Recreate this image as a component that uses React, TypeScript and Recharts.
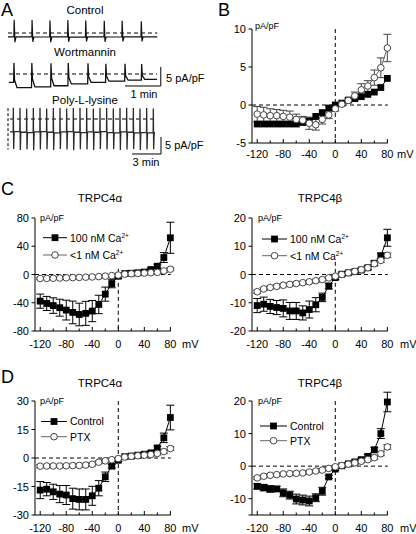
import React from 'react';
import { LineChart, Line, XAxis, YAxis, ReferenceLine, ErrorBar } from 'recharts';

const FONT = '"Liberation Sans", Arial, Helvetica, sans-serif';

// ---------- Panel A : current traces (time in s, current in pA/pF) ----------
const controlSpikeTimes = [10, 39, 68, 97, 126, 156, 185, 216];
const controlPeaks = [3.5, 3.4, 3.3, 3.4, 3.3, 3.2, 3.2, 3.1];
const controlTroughs = [-2.4, -2.3, -2.4, -2.3, -2.2, -2.3, -2.2, -2.2];
const controlBase = [-1.0, -1.05, -1.0, -1.1, -1.0, -1.05, -1.0, -1.0];

const wortSpikeTimes = [8, 37, 68, 96, 128, 157, 188, 215];
const wortPeaks = [2.9, 2.9, 2.8, 2.9, 2.8, 2.7, 2.7, 2.6];
const wortTroughs = [-1.6, -1.3, -1.1, -0.9, -0.7, -0.6, -0.5, -0.4];
const wortBase = [-3.6, -3.4, -3.1, -2.6, -2.2, -1.9, -1.6, -1.4];

const polySpikeTimes = [20, 60, 100, 140, 180, 220, 260, 300, 340, 380, 420, 460, 500, 540, 580, 620, 660, 700, 740, 780, 820, 860];
const polyPeaks = [3.3, 3.2, 3.1, 3.2, 3.3, 3.1, 3.2, 3.2, 3.1, 3.2, 3.3, 3.2, 3.1, 3.2, 3.2, 3.1, 3.2, 3.3, 3.2, 3.1, 3.2, 3.1];
const polyTroughs = [-8.8, -9.1, -8.9, -9.2, -9.0, -8.9, -9.1, -8.8, -9.0, -9.2, -8.9, -9.0, -9.1, -8.8, -9.0, -8.9, -9.1, -9.0, -8.8, -9.1, -9.0, -8.9];
const polyBase = [-3.7, -3.9, -4.0, -3.8, -3.7, -3.9, -4.1, -3.8, -3.7, -3.9, -4.0, -3.8, -3.9, -3.7, -4.0, -4.1, -3.8, -3.9, -4.1, -4.0, -4.1, -4.0];

// ---------- Panels B-D : I-V relations ----------
const mV = [-120, -110, -100, -90, -80, -70, -60, -50, -40, -30, -20, -10, 0, 10, 20, 30, 40, 50, 60, 70, 80];
const xTicks = [-120, -100, -80, -60, -40, -20, 0, 20, 40, 60, 80];

// B
const bSquare = [-2.5, -2.5, -2.5, -2.5, -2.5, -2.5, -2.5, -2.3, -2.1, -1.5, -1.0, -0.4, 0.0, 0.25, 0.65, 0.85, 1.1, 1.4, 1.7, 2.3, 3.5];
const bCircle = [-1.2, -1.3, -1.4, -1.4, -1.5, -1.6, -1.9, -2.0, -2.4, -2.6, -1.9, -1.3, -0.5, 0.1, 0.6, 1.2, 2.0, 2.5, 3.6, 4.9, 7.5];
const bCircleErr = [1.0, 1.0, 0.9, 0.8, 0.8, 0.8, 0.7, 0.5, 0.8, 0.7, 0.6, 0.5, 0.3, 0.2, 0.3, 0.5, 0.8, 0.7, 1.0, 1.3, 1.8];

// C TRPC4alpha
const cAlphaCa = [-37.7, -41, -44, -47, -50.4, -53.7, -56.6, -55, -51.8, -42.4, -27.8, -12.8, -2.4, 1.4, 1.8, 2.5, 3.5, 7, 11.7, 24, 52];
const cAlphaCaErr = [10, 10, 11, 12, 14, 16, 16, 17, 15, 13, 10, 6, 3, 1, 1, 1, 1.5, 2, 3, 7, 22];
const cAlphaLow = [-5.7, -5.5, -5.3, -5, -4.7, -4.4, -4.1, -3.8, -3.5, -3, -2.3, -1.5, -0.8, 0.5, 1, 1.5, 2, 2.5, 3, 5, 7.5];
const cAlphaLowErr = [1.5, 1.5, 1.5, 1.5, 1.5, 1.5, 1.5, 1.5, 1.5, 1.5, 1.5, 1.5, 1, 1, 1, 1, 1.5, 1.5, 2, 2, 2];

// C TRPC4beta
const cBetaCa = [-11, -10.5, -11.3, -11.7, -12, -12.9, -12.9, -13.6, -12.4, -10.7, -8.1, -4.1, -1.1, 0.1, 0.6, 1.0, 1.6, 2.4, 4.0, 6.6, 13];
const cBetaCaErr = [2.5, 2.5, 2.5, 2.5, 3, 3, 3, 2.5, 3, 2.5, 1.5, 1, 0.7, 0.4, 0.4, 0.5, 0.6, 0.7, 0.8, 1, 3];
const cBetaLow = [-6.1, -5.1, -4.6, -4.2, -3.8, -3.5, -3.2, -2.9, -2.6, -2.2, -1.8, -1.2, -0.6, 0, 0.6, 1.1, 1.7, 2.4, 3.8, 5, 6.8];
const cBetaLowErr = [0.6, 0.5, 0.5, 0.5, 0.5, 0.5, 0.5, 0.5, 0.5, 0.5, 0.5, 0.5, 0.5, 0.5, 0.5, 0.5, 0.6, 0.6, 0.6, 0.7, 0.8];

// D TRPC4alpha
const dAlphaCtl = [-16.9, -16.4, -17.8, -19, -19.5, -21.4, -21.8, -21.8, -19.9, -15.9, -9.9, -4.3, -1.2, 0.7, 1.0, 1.5, 2.0, 2.7, 5.3, 10.6, 21.3];
const dAlphaCtlErr = [4.5, 3.5, 4, 4.5, 5, 5.5, 5.5, 5.5, 5, 4, 2.5, 1, 0.7, 0.5, 0.5, 0.5, 0.6, 0.7, 1, 2.5, 6.5];
const dAlphaPtx = [-4.3, -4.2, -4.2, -4.2, -4.1, -4.0, -3.9, -3.7, -3.3, -2.2, -1.5, -0.9, -0.3, 0.5, 0.9, 1.2, 1.5, 1.8, 2.4, 3.4, 5.0];
const dAlphaPtxErr = [0.8, 0.8, 0.8, 0.8, 0.8, 0.8, 0.8, 0.8, 0.8, 0.8, 0.7, 0.6, 0.5, 0.5, 0.5, 0.5, 0.6, 0.7, 0.8, 0.9, 1.0];

// D TRPC4beta
const dBetaCtl = [-6.2, -6.6, -7.0, -7.0, -8.2, -8.9, -10.1, -10.4, -10.7, -9.7, -7.7, -3.3, -0.9, 0.1, 0.7, 1.3, 2.0, 3.0, 5.0, 10.0, 19.7];
const dBetaCtlErr = [0.8, 1, 1, 0.8, 1.2, 1.2, 1.5, 1.5, 1.5, 1.2, 1.2, 0.5, 0.4, 0.4, 0.4, 0.5, 0.5, 0.6, 0.8, 1.5, 3];
const dBetaPtx = [-3.6, -3.1, -2.8, -2.6, -2.4, -2.3, -2.2, -2.1, -1.8, -1.5, -1.2, -0.7, -0.2, 0.2, 0.6, 1.0, 1.5, 2.0, 2.6, 3.8, 5.9];
const dBetaPtxErr = [0.4, 0.4, 0.4, 0.4, 0.4, 0.4, 0.4, 0.4, 0.4, 0.4, 0.4, 0.4, 0.4, 0.4, 0.4, 0.4, 0.4, 0.5, 0.5, 0.6, 0.7];

// ---------- helpers ----------
function buildTrace(start: number, times: number[], peaks: number[], troughs: number[], bases: number[], end: number, rise: number, fall: number, settle: number) {
  const rows: { t: number; v: number }[] = [{ t: 0, v: start }];
  let prev = start;
  times.forEach((ts, i) => {
    rows.push({ t: ts - rise, v: prev });
    rows.push({ t: ts, v: peaks[i] });
    rows.push({ t: ts + fall, v: troughs[i] });
    rows.push({ t: ts + settle, v: bases[i] });
    prev = bases[i];
  });
  rows.push({ t: end, v: prev });
  return rows;
}

function buildIV(sq: number[], sqErr: number[] | null, ci: number[], ciErr: number[] | null) {
  return mV.map((v, i) => ({
    mv: v,
    sq: sq[i],
    sqe: sqErr ? sqErr[i] : 0,
    ci: ci[i],
    cie: ciErr ? ciErr[i] : 0,
  }));
}

const SquareDot = (p: any) => {
  if (p.cx == null || p.cy == null) return <g key={`sd${p.index}`} />;
  return <rect key={`sd${p.index}`} x={p.cx - 3.4} y={p.cy - 3.4} width={6.8} height={6.8} fill="#000" />;
};

const XTick = (p: any) => {
  const { x, y, payload, labelDy } = p;
  const v = payload.value;
  const major = v % 40 === 0;
  return (
    <g>
      <line x1={x} y1={y} x2={x} y2={y - (major ? 4 : 2.5)} stroke="#000" strokeWidth={1} />
      {major && (
        <text x={x} y={y + labelDy} textAnchor="middle" fontSize={11} fontFamily={FONT} fill="#000">
          {v}
        </text>
      )}
    </g>
  );
};

const YTick = (p: any) => {
  const { x, y, payload, labels } = p;
  const v = payload.value;
  const show = labels.includes(v);
  return (
    <g>
      <line x1={x} y1={y} x2={x - 3.5} y2={y} stroke="#000" strokeWidth={1} />
      {show && (
        <text x={x - 6} y={y + 4} textAnchor="end" fontSize={11} fontFamily={FONT} fill="#000">
          {v}
        </text>
      )}
    </g>
  );
};

type IVProps = {
  plotLeft: number;
  plotTop: number;
  h: number;
  yDomain: [number, number];
  yTicks: number[];
  yLabels: number[];
  rows: any[];
  sqErr: boolean;
  vTop: number;
  labelDy: number;
};

const PX_PER_MV = 136 / 209;
const X_MIN = -128;
const PLOT_W = 140;
const X_MAX = X_MIN + PLOT_W / PX_PER_MV;
const TOP_PAD = 9;

function IVChart({ plotLeft, plotTop, h, yDomain, yTicks, yLabels, rows, sqErr, vTop, labelDy }: IVProps) {
  const [yMin, yMax] = yDomain;
  const pxPerUnit = h / (yMax - yMin);
  const yTopExt = yMax + TOP_PAD / pxPerUnit;
  return (
    <div style={{ position: 'absolute', left: plotLeft - 35, top: plotTop - TOP_PAD - 1 }}>
      <LineChart width={35 + PLOT_W + 8} height={1 + TOP_PAD + h + 30} data={rows} margin={{ top: 1, right: 8, left: 0, bottom: 0 }}>
        <XAxis
          type="number"
          dataKey="mv"
          domain={[X_MIN, X_MAX]}
          ticks={xTicks}
          interval={0}
          allowDataOverflow
          height={30}
          tickLine={false}
          tickSize={0}
          tickMargin={0}
          axisLine={false}
          tick={(p: any) => <XTick {...p} labelDy={labelDy} />}
        />
        <YAxis
          type="number"
          domain={[yMin, yTopExt]}
          ticks={yTicks}
          interval={0}
          allowDataOverflow
          width={35}
          tickLine={false}
          tickSize={0}
          tickMargin={0}
          axisLine={false}
          tick={(p: any) => <YTick {...p} labels={yLabels} />}
        />
        <ReferenceLine segment={[{ x: X_MIN, y: yMin }, { x: 80.7, y: yMin }]} stroke="#000" strokeWidth={1} />
        <ReferenceLine segment={[{ x: X_MIN, y: yMin }, { x: X_MIN, y: yMax }]} stroke="#000" strokeWidth={1} />
        <ReferenceLine segment={[{ x: X_MIN, y: 0 }, { x: 80.7, y: 0 }]} stroke="#000" strokeWidth={1} strokeDasharray="4 3" />
        <ReferenceLine
          segment={[
            { x: 0, y: vTop },
            { x: 0, y: yMin },
          ]}
          stroke="#000"
          strokeWidth={1}
          strokeDasharray="4 3"
        />
        <Line
          dataKey="sq"
          type="linear"
          stroke="#000"
          strokeWidth={1}
          dot={SquareDot}
          activeDot={false}
          isAnimationActive={false}
        >
          {sqErr && <ErrorBar dataKey="sqe" width={4} stroke="#000" strokeWidth={1} direction="y" />}
        </Line>
        <Line
          dataKey="ci"
          type="linear"
          stroke="#666"
          strokeWidth={1}
          dot={{ r: 3.3, fill: '#fff', stroke: '#444', strokeWidth: 1, clipDot: false }}
          activeDot={false}
          isAnimationActive={false}
        >
          <ErrorBar dataKey="cie" width={4} stroke="#444" strokeWidth={1} direction="y" />
        </Line>
      </LineChart>
    </div>
  );
}

type TraceProps = {
  left: number;
  top: number;
  width: number;
  height: number;
  xDomain: [number, number];
  yDomain: [number, number];
  rows: { t: number; v: number }[];
  stroke: string;
  strokeWidth: number;
  children?: React.ReactNode;
};

function TraceChart({ left, top, width, height, xDomain, yDomain, rows, stroke, strokeWidth, children }: TraceProps) {
  return (
    <div style={{ position: 'absolute', left, top }}>
      <LineChart width={width} height={height} data={rows} margin={{ top: 0, right: 0, left: 0, bottom: 0 }}>
        <XAxis type="number" dataKey="t" domain={xDomain} hide allowDataOverflow />
        <YAxis type="number" domain={yDomain} hide allowDataOverflow />
        {children}
        <Line dataKey="v" type="linear" stroke={stroke} strokeWidth={strokeWidth} dot={false} activeDot={false} isAnimationActive={false} />
      </LineChart>
    </div>
  );
}

function LegendItem({ x1, x2, y, kind, children }: { x1: number; x2: number; y: number; kind: 'sq' | 'ci'; children: React.ReactNode }) {
  const cx = (x1 + x2) / 2;
  return (
    <g>
      <line x1={x1} y1={y} x2={x2} y2={y} stroke={kind === 'sq' ? '#000' : '#666'} strokeWidth={1} />
      {kind === 'sq' ? (
        <rect x={cx - 3.4} y={y - 3.4} width={6.8} height={6.8} fill="#000" />
      ) : (
        <circle cx={cx} cy={y} r={3.3} fill="#fff" stroke="#444" strokeWidth={1} />
      )}
      <text x={x2 + 3} y={y + 3.8} fontSize={10.5} fontFamily={FONT} fill="#000">
        {children}
      </text>
    </g>
  );
}

const Ca = ({ pre }: { pre: string }) => (
  <>
    {pre}
    <tspan dy={-4} fontSize={6.5}>
      2+
    </tspan>
  </>
);

export default function App() {
  const controlRows = buildTrace(-1.0, controlSpikeTimes, controlPeaks, controlTroughs, controlBase, 242, 0.5, 1.2, 3);
  const wortRows = buildTrace(-2.2, wortSpikeTimes, wortPeaks, wortTroughs, wortBase, 240, 0.5, 1, 5);
  const polyRows = buildTrace(-3.8, polySpikeTimes, polyPeaks, polyTroughs, polyBase, 870, 1, 2, 5);

  const dash = '4 3';

  return (
    <div style={{ position: 'absolute', left: 0, top: 0, width: 416, height: 534, background: '#fff', fontFamily: FONT, overflow: 'hidden' }}>
      {/* Panel A traces */}
      <TraceChart left={8} top={15} width={160} height={32} xDomain={[0, 259.3]} yDomain={[-3.68, 4.74]} rows={controlRows} stroke="#111" strokeWidth={1.2}>
        <ReferenceLine segment={[{ x: 0, y: 0 }, { x: 242, y: 0 }]} stroke="#000" strokeDasharray={dash} />
      </TraceChart>
      <TraceChart left={9} top={58} width={160} height={34} xDomain={[0, 259.3]} yDomain={[-4.74, 4.21]} rows={wortRows} stroke="#111" strokeWidth={1.3}>
        <ReferenceLine segment={[{ x: 0, y: 0 }, { x: 240, y: 0 }]} stroke="#000" strokeDasharray={dash} />
        <ReferenceLine segment={[{ x: 188, y: -3.16 }, { x: 246, y: -3.16 }]} stroke="#000" />
        <ReferenceLine segment={[{ x: 246, y: -3.16 }, { x: 246, y: 1.84 }]} stroke="#000" />
      </TraceChart>
      <TraceChart left={6} top={100} width={160} height={58} xDomain={[-24, 936]} yDomain={[-11.47, 5.59]} rows={polyRows} stroke="#2a2a2a" strokeWidth={1.3}>
        <ReferenceLine segment={[{ x: 0, y: 0 }, { x: 870, y: 0 }]} stroke="#000" strokeDasharray={dash} />
        <ReferenceLine segment={[{ x: -12, y: 3.2 }, { x: -12, y: -9 }]} stroke="#000" strokeDasharray="3 2" />
        <ReferenceLine segment={[{ x: 732, y: -10.29 }, { x: 906, y: -10.29 }]} stroke="#000" />
        <ReferenceLine segment={[{ x: 906, y: -10.29 }, { x: 906, y: -5.29 }]} stroke="#000" />
      </TraceChart>

      {/* Panel B */}
      <IVChart plotLeft={252} plotTop={29} h={114} yDomain={[-5, 10]} yTicks={[-5, 0, 5, 10]} yLabels={[-5, 0, 5, 10]}
        rows={buildIV(bSquare, null, bCircle, bCircleErr)} sqErr={false} vTop={10} labelDy={14.7} />

      {/* Panel C */}
      <IVChart plotLeft={35} plotTop={218} h={113} yDomain={[-80, 80]} yTicks={[-80, -40, 0, 40, 80]} yLabels={[-80, -40, 0, 40, 80]}
        rows={buildIV(cAlphaCa, cAlphaCaErr, cAlphaLow, cAlphaLowErr)} sqErr={true} vTop={8} labelDy={17.3} />
      <IVChart plotLeft={252} plotTop={218} h={113} yDomain={[-20, 20]} yTicks={[-20, -10, 0, 10, 20]} yLabels={[-20, -10, 0, 10, 20]}
        rows={buildIV(cBetaCa, cBetaCaErr, cBetaLow, cBetaLowErr)} sqErr={true} vTop={4.5} labelDy={17.3} />

      {/* Panel D */}
      <IVChart plotLeft={35} plotTop={401} h={114} yDomain={[-30, 30]} yTicks={[-30, -15, 0, 15, 30]} yLabels={[-30, -15, 0, 15, 30]}
        rows={buildIV(dAlphaCtl, dAlphaCtlErr, dAlphaPtx, dAlphaPtxErr)} sqErr={true} vTop={30} labelDy={17.3} />
      <IVChart plotLeft={252} plotTop={401} h={114} yDomain={[-15, 20]} yTicks={[-15, -10, 0, 10, 20]} yLabels={[-10, 0, 10, 20]}
        rows={buildIV(dBetaCtl, dBetaCtlErr, dBetaPtx, dBetaPtxErr)} sqErr={true} vTop={20} labelDy={17.3} />

      {/* Text overlay */}
      <svg width={416} height={534} style={{ position: 'absolute', left: 0, top: 0, pointerEvents: 'none' }} fontFamily={FONT}>
        <text x={1} y={16} fontSize={18}>A</text>
        <text x={218} y={16} fontSize={18}>B</text>
        <text x={1} y={195} fontSize={18}>C</text>
        <text x={1} y={383} fontSize={18}>D</text>

        <text x={85} y={14} fontSize={11.5} textAnchor="middle">Control</text>
        <text x={85} y={56} fontSize={11.5} textAnchor="middle">Wortmannin</text>
        <text x={85} y={104} fontSize={11.5} textAnchor="middle">Poly-L-lysine</text>
        <text x={166} y={82} fontSize={11}>5 pA/pF</text>
        <text x={144} y={98} fontSize={11} textAnchor="middle">1 min</text>
        <text x={165} y={149} fontSize={11}>5 pA/pF</text>
        <text x={146} y={166} fontSize={11} textAnchor="middle">3 min</text>

        <text x={100} y={202} fontSize={11.5} textAnchor="middle">TRPC4α</text>
        <text x={320} y={202} fontSize={11.5} textAnchor="middle">TRPC4β</text>
        <text x={100} y={387} fontSize={11.5} textAnchor="middle">TRPC4α</text>
        <text x={320} y={387} fontSize={11.5} textAnchor="middle">TRPC4β</text>

        <text x={255} y={29} fontSize={9}>pA/pF</text>
        <text x={40} y={221} fontSize={9}>pA/pF</text>
        <text x={258} y={221} fontSize={9}>pA/pF</text>
        <text x={40} y={404} fontSize={9}>pA/pF</text>
        <text x={258} y={404} fontSize={9}>pA/pF</text>

        <text x={397} y={157.7} fontSize={11}>mV</text>
        <text x={182} y={348.3} fontSize={11}>mV</text>
        <text x={400} y={348.3} fontSize={11}>mV</text>
        <text x={182} y={532.3} fontSize={11}>mV</text>
        <text x={400} y={532.3} fontSize={11}>mV</text>

        <LegendItem x1={43} x2={67} y={237.7} kind="sq"><Ca pre="100 nM Ca" /></LegendItem>
        <LegendItem x1={43} x2={67} y={255} kind="ci"><Ca pre="<1 nM Ca" /></LegendItem>
        <LegendItem x1={262} x2={287} y={239} kind="sq"><Ca pre="100 nM Ca" /></LegendItem>
        <LegendItem x1={262} x2={287} y={255.7} kind="ci"><Ca pre="<1 nM Ca" /></LegendItem>
        <LegendItem x1={41} x2={67} y={421.5} kind="sq">Control</LegendItem>
        <LegendItem x1={41} x2={67} y={436.7} kind="ci">PTX</LegendItem>
        <LegendItem x1={260} x2={287} y={426} kind="sq">Control</LegendItem>
        <LegendItem x1={260} x2={287} y={440.7} kind="ci">PTX</LegendItem>
      </svg>
    </div>
  );
}
